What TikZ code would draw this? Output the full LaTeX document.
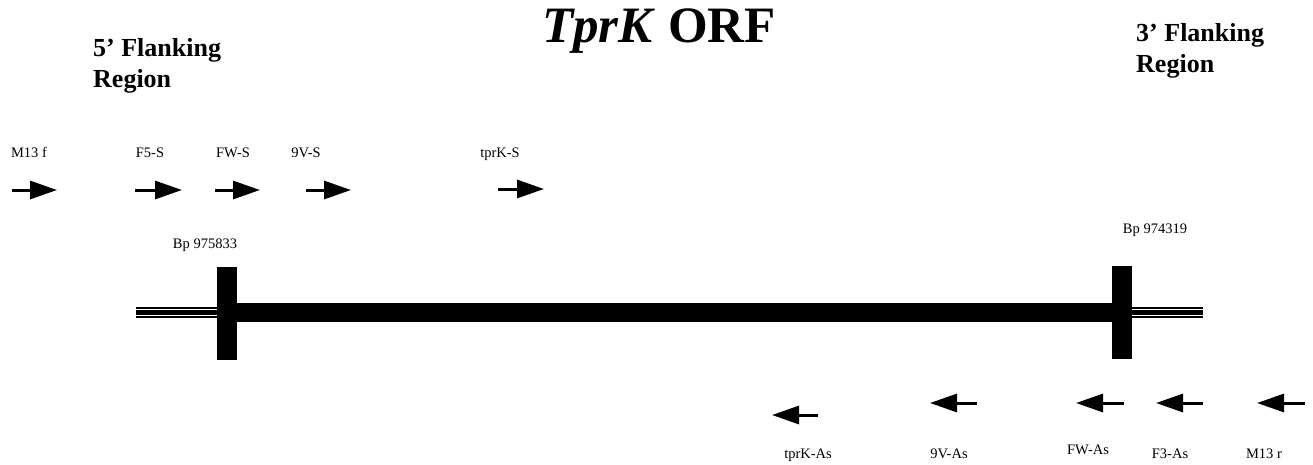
\documentclass[tikz,border=0pt]{standalone}
\usepackage{fontspec}
\setmainfont{Liberation Serif}
\usepackage{tikz}
\usetikzlibrary{arrows.meta}
\tikzstyle{primer} = [font=\fontsize{14.5}{17}\selectfont, inner sep=0pt, anchor=base]
\tikzstyle{region} = [font=\bfseries\fontsize{26}{31}\selectfont, align=left, inner sep=0pt, anchor=north west]
\tikzstyle{title} = [font=\bfseries\fontsize{51}{58}\selectfont, inner sep=0pt, anchor=base]
\tikzstyle{fwd} = [line width=3pt, -{Triangle[length=27pt,width=18pt]}]
\tikzstyle{rev} = [line width=3pt, {Triangle[length=27pt,width=18pt]}-]
\tikzstyle{block} = [fill=black]
\tikzstyle{gap} = [white, line width=0.8pt]

\begin{document}
\begin{tikzpicture}[x=1pt, y=-1pt]
        \useasboundingbox (0,0) rectangle (1313,464);

        \node (Title) [title] at (659,42) {\textit{TprK} ORF};
        \node (FivePrime) [region] at (93,38) {5’ Flanking\\Region};
        \node (ThreePrime) [region] at (1136,23) {3’ Flanking\\Region};

        % flanking regions
        \fill (136,307) rectangle (217,318);
        \fill (1132,307) rectangle (1203,318);
        \draw [gap] (136,309.8) -- (217,309.8);
        \draw [gap] (136,315.6) -- (217,315.6);
        \draw [gap] (1132,309.8) -- (1203,309.8);
        \draw [gap] (1132,315.6) -- (1203,315.6);

        % orf
        \fill [block] (237,303) rectangle (1112,322);
        \fill [block] (217,267) rectangle (237,360);
        \fill [block] (1112,266) rectangle (1132,359);
        \node (StartBp) [primer] at (205,248) {Bp 975833};
        \node (EndBp) [primer] at (1155,233) {Bp 974319};

        % sense primers
        \node (M13f) [primer] at (29,157) {M13 f};
        \node (F5S) [primer] at (150,157) {F5-S};
        \node (FWS) [primer] at (233,157) {FW-S};
        \node (NineVS) [primer] at (306,157) {9V-S};
        \node (tprKS) [primer] at (500,157) {tprK-S};
        \draw [fwd] (12,190) -- (57,190);
        \draw [fwd] (135,190) -- (182,190);
        \draw [fwd] (215,190) -- (260,190);
        \draw [fwd] (306,190) -- (351,190);
        \draw [fwd] (498,189) -- (544,189);

        % antisense primers
        \draw [rev] (772,415) -- (818,415);
        \draw [rev] (930,403) -- (977,403);
        \draw [rev] (1076,403) -- (1124,403);
        \draw [rev] (1156,403) -- (1203,403);
        \draw [rev] (1257,403) -- (1305,403);
        \node (tprKAs) [primer] at (808,458) {tprK-As};
        \node (NineVAs) [primer] at (949,458) {9V-As};
        \node (FWAs) [primer] at (1088,454) {FW-As};
        \node (F3As) [primer] at (1170,458) {F3-As};
        \node (M13r) [primer] at (1264,458) {M13 r};

      \end{tikzpicture}
\end{document}
